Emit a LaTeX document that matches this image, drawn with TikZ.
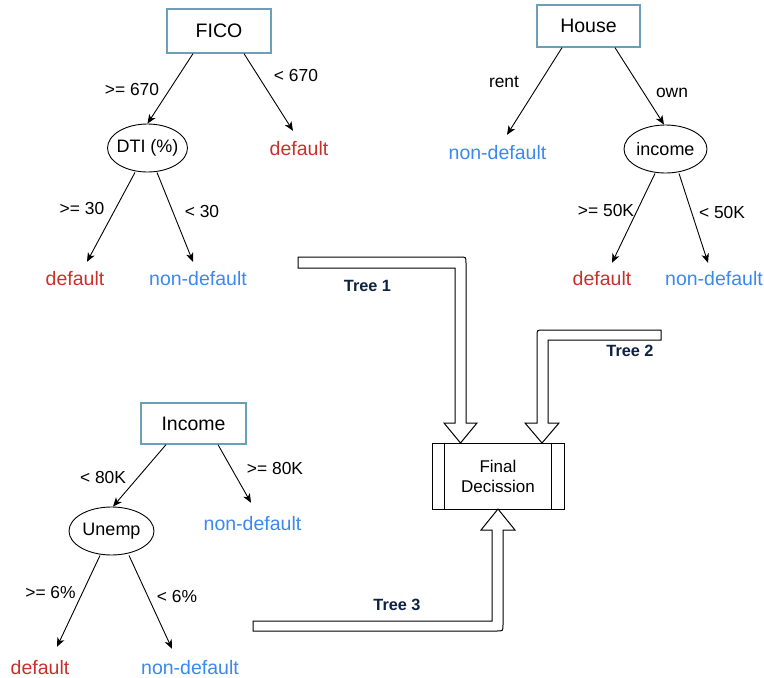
\documentclass[tikz,border=0pt]{standalone}
\usepackage{fontspec}
\setmainfont{Liberation Sans}
\usetikzlibrary{arrows.meta,shapes.geometric,calc}
\definecolor{boxline}{HTML}{6A9FB5}
\definecolor{redtxt}{HTML}{C9302C}
\definecolor{bluetxt}{HTML}{3B88F0}
\definecolor{navy}{HTML}{0D2240}
\begin{document}
\begin{tikzpicture}[x=1pt,y=-1pt,
 rootbox/.style={draw=boxline,line width=1.3pt,inner sep=0pt,font=\fontsize{19.5}{23}\selectfont},
 testnode/.style={ellipse,draw,line width=0.9pt,inner sep=0pt,font=\fontsize{18}{21}\selectfont},
 leafdef/.style={text=redtxt,inner sep=0pt,text height=14pt,text depth=0pt,font=\fontsize{19.5}{23}\selectfont},
 leafnon/.style={leafdef,text=bluetxt},
 edgelbl/.style={inner sep=0pt,font=\fontsize{17.4}{20}\selectfont},
 branch/.style={draw,line width=0.9pt,-{Stealth[length=9pt,width=7.5pt,inset=2.5pt]}},
 treelbl/.style={text=navy,inner sep=0pt,font=\fontsize{16.3}{19}\selectfont\bfseries},
 bigarrow/.style={draw,line width=1pt,fill=white,line join=miter}
]
\useasboundingbox (0,0) rectangle (764,678);

% ---------- Tree 1 ----------
\node[rootbox,minimum width=104pt,minimum height=44pt] (fico) at (219,31) {FICO};
\node[testnode,minimum width=80pt,minimum height=48pt] (dti) at (147.5,148) {\makebox[0pt]{DTI (\%)}};
\node[leafdef] (d1) at (299,148) {default};
\node[leafdef] (d2) at (75,278) {default};
\node[leafnon] (n1) at (198,278) {non-default};
\draw[branch] ([xshift=-26pt]fico.south) -- (dti.north);
\draw[branch] ([xshift=25pt]fico.south) -- ([xshift=-6pt,yshift=10pt]d1.north);
\draw[branch] ([xshift=-12.5pt]dti.south) -- ([xshift=12pt,yshift=9pt]d2.north);
\draw[branch] ([xshift=9.5pt]dti.south) -- ([xshift=-5pt,yshift=9pt]n1.north);
\node[edgelbl] (l1) at (132,90) {>= 670};
\node[edgelbl] (l2) at (296,76) {< 670};
\node[edgelbl] (l3) at (82,209) {>= 30};
\node[edgelbl] (l4) at (202,212) {< 30};

% ---------- Tree 2 ----------
\node[rootbox,minimum width=103pt,minimum height=42pt] (house) at (588.5,26) {House};
\node[testnode,minimum width=83pt,minimum height=48pt] (inc) at (665.5,149) {\makebox[0pt]{income}};
\node[leafnon] (n2) at (497.5,152) {non-default};
\node[leafdef] (d3) at (602,278) {default};
\node[leafnon] (n3) at (714,278) {non-default};
\draw[branch] ([xshift=-26.5pt]house.south) -- ([xshift=9.5pt,yshift=10pt]n2.north);
\draw[branch] ([xshift=26.5pt]house.south) -- ([xshift=-1.5pt]inc.north);
\draw[branch] ([xshift=-10.5pt]inc.south) -- ([xshift=10pt,yshift=8pt]d3.north);
\draw[branch] ([xshift=13.5pt]inc.south) -- ([xshift=-6pt,yshift=8pt]n3.north);
\node[edgelbl] (l5) at (504,82) {rent};
\node[edgelbl] (l6) at (672,93) {own};
\node[edgelbl] (l7) at (606,211) {>= 50K};
\node[edgelbl] (l8) at (722,213) {< 50K};

% ---------- Tree 3 ----------
\node[rootbox,minimum width=105pt,minimum height=41pt] (incb) at (193.5,423.5) {Income};
\node[testnode,minimum width=85pt,minimum height=48pt] (unemp) at (111.5,531) {\makebox[0pt]{Unemp}};
\node[leafnon] (n4) at (252.5,523) {non-default};
\node[leafdef] (d4) at (40,667) {default};
\node[leafnon] (n5) at (190,667) {non-default};
\draw[branch] ([xshift=-27.5pt]incb.south) -- ([xshift=1.5pt]unemp.north);
\draw[branch] ([xshift=24.5pt]incb.south) -- ([xshift=-1.5pt,yshift=13pt]n4.north);
\draw[branch] ([xshift=-11.5pt]unemp.south) -- ([xshift=17pt,yshift=13pt]d4.north);
\draw[branch] ([xshift=17.5pt]unemp.south) -- ([xshift=-18pt,yshift=11pt]n5.north);
\node[edgelbl] (l9) at (103,478) {< 80K};
\node[edgelbl] (l10) at (275,469) {>= 80K};
\node[edgelbl] (l11) at (50.5,593) {>= 6\%};
\node[edgelbl] (l12) at (177,597) {< 6\%};

% ---------- Final decision ----------
\node[draw,line width=1pt,minimum width=132pt,minimum height=66pt,inner sep=0pt,align=center,
      font=\fontsize{17}{20}\selectfont] (fd) at (498,476) {Final\\Decission};
\draw[line width=1pt] ([xshift=13pt]fd.north west) -- ([xshift=13pt]fd.south west);
\draw[line width=1pt] ([xshift=-13pt]fd.north east) -- ([xshift=-13pt]fd.south east);

% ---------- big hollow arrows ----------
\path[bigarrow] (298,257) -- (460,257) .. controls (466,257) .. (466,263) -- (466,423) -- (477,423)
  -- (460.5,443) -- (444,423) -- (455,423) -- (455,268) -- (298,268) -- cycle;
\path[bigarrow] (661,330) -- (543,330) .. controls (537,330) .. (537,336) -- (537,423) -- (525,423)
  -- (542,443) -- (559,423) -- (548,423) -- (548,340) -- (661,340) -- cycle;
\path[bigarrow] (253,621) -- (492,621) -- (492,530) -- (481,530) -- (498,509) -- (515,530)
  -- (503,530) -- (503,625) .. controls (503,631) .. (497,631) -- (253,631) -- cycle;
\node[treelbl] (t1) at (367.5,286) {Tree 1};
\node[treelbl] (t2) at (630,351) {Tree 2};
\node[treelbl] (t3) at (397,605) {Tree 3};
\end{tikzpicture}
\end{document}
